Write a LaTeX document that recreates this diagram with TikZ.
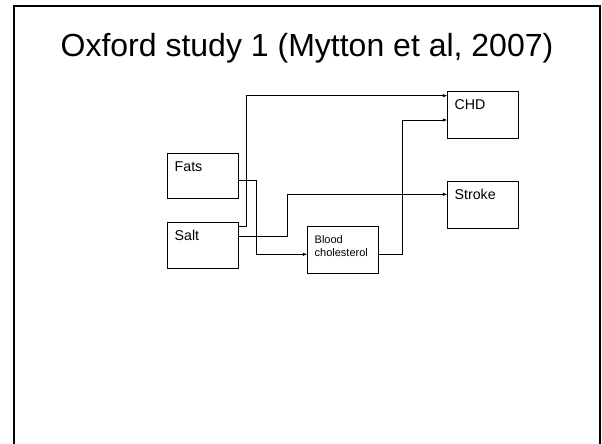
\documentclass[tikz,border=0pt]{standalone}
\usepackage{fontspec}
\setmainfont{Liberation Sans}
\usetikzlibrary{arrows.meta}
\newcommand{\boxtxt}[2]{\parbox[t][#1][t]{56.5pt}{\raggedright #2}}
\begin{document}
\begin{tikzpicture}[x=1pt,y=-1pt,
  box/.style={draw, line width=0.8pt, anchor=north west, inner xsep=7pt,
    inner ysep=7.7pt, font=\fontsize{14.2}{16}\selectfont},
  conn/.style={line width=0.75pt, -{Latex[length=4.5pt,width=3.5pt]}},
  frame/.style={line width=2pt},
  title/.style={font=\fontsize{32}{36}\selectfont, anchor=base}
]
\useasboundingbox (0,0) rectangle (602,444);
\fill[white] (0,0) rectangle (602,444);
\draw[frame] (13.5,450) -- (13.5,6) -- (599.5,6) -- (599.5,450);
\node[title] (ttl) at (307,56.7) {Oxford study 1 (Mytton et al, 2007)};

\node[box] (fats) at (167.3,153.3) {\boxtxt{29.6pt}{Fats}};
\node[box] (salt) at (167.3,222.3) {\boxtxt{30.6pt}{Salt}};
\node[box] (chd) at (447.3,91) {\boxtxt{31.9pt}{CHD}};
\node[box] (stroke) at (447.3,180.7) {\boxtxt{31.6pt}{Stroke}};
\node[box, inner ysep=9.5pt, font=\fontsize{11}{12.3}\selectfont] (bc) at (307.3,226) {\boxtxt{27.7pt}{Blood\\cholesterol}};

% Salt -> CHD
\draw[conn] (salt.east |- 0,226.7) -- (246.7,226.7) |- (chd.west |- 0,95.7);
% Fats -> Blood cholesterol
\draw[conn] (fats.east |- 0,180) -- (256.7,180) |- (bc.west |- 0,254.3);
% Salt -> Stroke
\draw[conn] (salt.east |- 0,236) -- (287.7,236) |- (stroke.west |- 0,194.3);
% Blood cholesterol -> CHD
\draw[conn] (bc.east |- 0,254.3) -- (402.3,254.3) |- (chd.west |- 0,120);
\end{tikzpicture}
\end{document}
